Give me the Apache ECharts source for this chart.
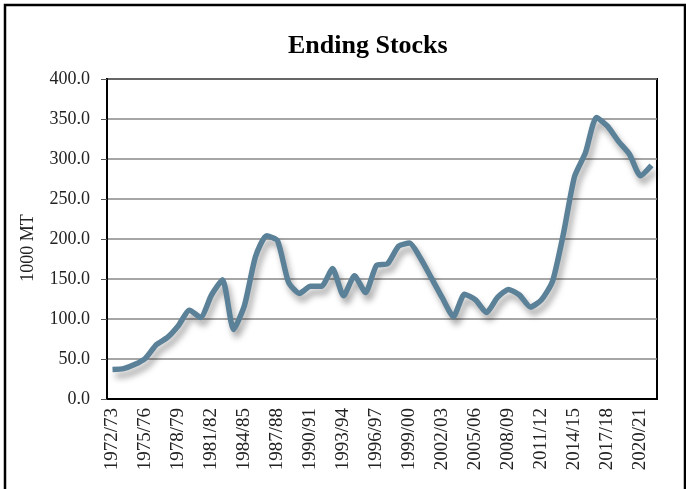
<!DOCTYPE html>
<html>
<head>
<meta charset="utf-8">
<title>Ending Stocks</title>
<script src="https://cdn.jsdelivr.net/npm/echarts@6/dist/echarts.min.js"></script>
<style>
  html, body { margin: 0; padding: 0; background: #fff; }
  #chart { width: 686px; height: 489px; }
</style>
</head>
<body>
<div id="chart"></div>
<script>
// marketing years
const years = [
  "1972/73","1973/74","1974/75","1975/76","1976/77","1977/78","1978/79","1979/80","1980/81","1981/82",
  "1982/83","1983/84","1984/85","1985/86","1986/87","1987/88","1988/89","1989/90","1990/91","1991/92",
  "1992/93","1993/94","1994/95","1995/96","1996/97","1997/98","1998/99","1999/00","2000/01","2001/02",
  "2002/03","2003/04","2004/05","2005/06","2006/07","2007/08","2008/09","2009/10","2010/11","2011/12",
  "2012/13","2013/14","2014/15","2015/16","2016/17","2017/18","2018/19","2019/20","2020/21","2021/22"
];
// ending stocks, 1000 MT
const endingStocks = [
  37, 38, 43, 51, 68, 77, 92, 111, 102, 130,
  149, 87, 117, 178, 204, 198, 146, 132, 141, 141,
  163, 129, 154, 133, 167, 169, 191, 195, 176, 151,
  126, 103, 131, 124, 108, 127, 137, 130, 115, 124,
  147, 207, 278, 308, 352, 341, 322, 306, 279, 292
];
const yTicks = [0, 50, 100, 150, 200, 250, 300, 350, 400];

const serif = '"Liberation Serif", "DejaVu Serif", serif';

const chart = echarts.init(document.getElementById("chart"));

const options = {
  animation: false,
  title: {
    text: "Ending Stocks",
    left: 283,
    top: 28,
    textStyle: { fontFamily: serif, fontSize: 26, fontWeight: "bold", color: "#000" }
  },
  // outer frame of the chart
  graphic: [{
    type: "rect",
    shape: { x: 5, y: 5, width: 680, height: 520 },
    style: { fill: null, stroke: "#000", lineWidth: 2.5 },
    silent: true
  }],
  grid: {
    left: 107,
    right: 29,
    top: 79,
    bottom: 90,
    show: true,
    borderColor: "#000",
    borderWidth: 2
  },
  xAxis: {
    type: "category",
    data: years,
    boundaryGap: true,
    axisLine: { lineStyle: { color: "#000", width: 2 } },
    axisTick: { interval: 0, length: 5, lineStyle: { color: "#000", width: 1 } },
    axisLabel: {
      interval: 2,
      rotate: 90,
      margin: 9,
      fontFamily: serif,
      fontSize: 19,
      color: "#222"
    }
  },
  yAxis: {
    type: "value",
    min: yTicks[0],
    max: yTicks[yTicks.length - 1],
    interval: 50,
    name: "1000 MT",
    nameLocation: "middle",
    nameGap: 70,
    nameTextStyle: { fontFamily: serif, fontSize: 18, color: "#222", padding: [0, 18, 0, 0] },
    axisLine: { show: true, lineStyle: { color: "#000", width: 2 } },
    axisTick: { show: true, length: 6, lineStyle: { color: "#555" } },
    axisLabel: {
      margin: 17,
      fontFamily: serif,
      fontSize: 18,
      color: "#222",
      formatter: v => v.toFixed(1)
    },
    splitLine: { lineStyle: { color: "#888", width: 1.5 } }
  },
  series: [{
    name: "Ending Stocks",
    type: "line",
    data: endingStocks,
    smooth: 0.2,
    symbol: "none",
    lineStyle: {
      color: "#5b8199",
      width: 5.5,
      shadowColor: "rgba(0,0,0,0.35)",
      shadowBlur: 6,
      shadowOffsetX: 3,
      shadowOffsetY: 6
    }
  }]
};

chart.setOption(options);
</script>
</body>
</html>
